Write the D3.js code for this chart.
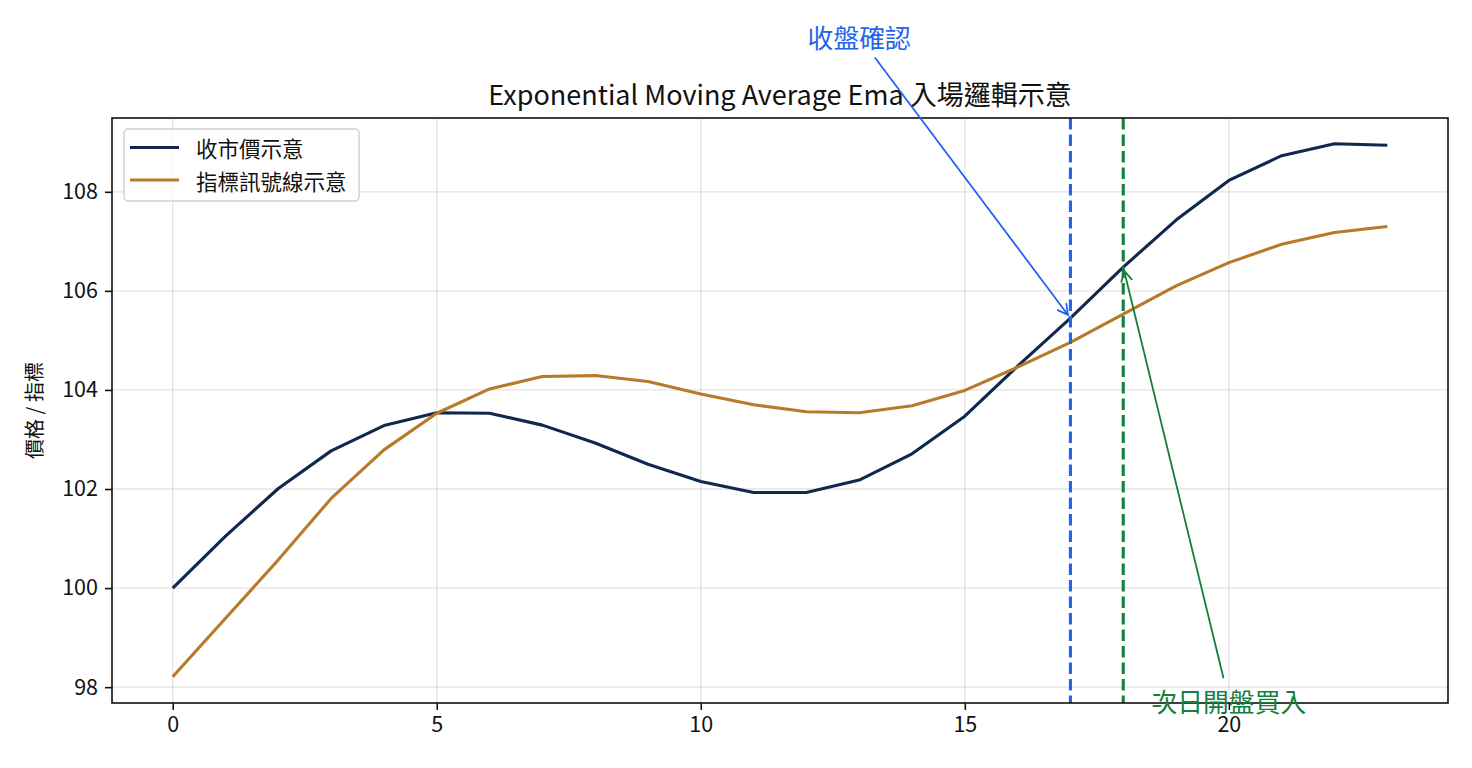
<!DOCTYPE html>
<html>
<head>
<meta charset="utf-8">
<script src="https://cdn.jsdelivr.net/npm/d3@7"></script>
<style>
    body { margin: 0; background: #fff; }
    svg text { font-family: "Noto Sans CJK TC", "Noto Sans", sans-serif; fill: #111; }
</style>
</head>
<body>
<div class="ema"></div>
<script>
////////////////////////////////// data

var days = [0, 1, 2, 3, 4, 5, 6, 7, 8, 9, 10, 11, 12, 13, 14, 15, 16, 17, 18, 19, 20, 21, 22, 23];
var closeValues = [100.00, 101.05, 102.01, 102.77, 103.28, 103.54, 103.53, 103.29, 102.93, 102.50, 102.15, 101.93,
                   101.93, 102.18, 102.71, 103.47, 104.48, 105.45, 106.48, 107.43, 108.23, 108.73, 108.97, 108.94];
var emaValues = [98.21, 99.39, 100.57, 101.81, 102.79, 103.53, 104.02, 104.27, 104.29, 104.17, 103.92, 103.70,
                 103.56, 103.54, 103.68, 103.99, 104.46, 104.96, 105.53, 106.10, 106.57, 106.94, 107.18, 107.30];
var xTicks = [0, 5, 10, 15, 20];
var yTicks = [98, 100, 102, 104, 106, 108];
var seriesNames = ["收市價示意", "指標訊號線示意"];
var titleText = "Exponential Moving Average Ema 入場邏輯示意";
var yLabelText = "價格 / 指標";
var markerDays = [17, 18];              // signal close, next-day entry
var noteTexts = ["收盤確認", "次日開盤買入"];

var emaChart = (function() {

    var exports = {};

////////////////////////////////// global variables

    var width = 1472, height = 768;
    var plot = { left: 112, right: 1448, top: 118, bottom: 703 };
    var closeColor = "#11284e", emaColor = "#b8792a";
    var blue = "#2563eb", green = "#15803d";

////////////////////////////////// helper functions

    //draws a matplotlib style "->" arrow from the text box edge to a data point
    function drawArrow(g, cx, cy, hw, hh, tx, ty, color){
        var dx = tx - cx, dy = ty - cy;
        var len = Math.sqrt(dx*dx + dy*dy);
        var ux = dx/len, uy = dy/len;
        var tA = Math.min(ux === 0 ? Infinity : hw/Math.abs(ux), uy === 0 ? Infinity : hh/Math.abs(uy)) + 6;
        var sx = cx + ux*tA, sy = cy + uy*tA;
        var ex = tx - ux*4, ey = ty - uy*4;
        var head = 12, ang = 28*Math.PI/180;
        function wing(a){
            var c = Math.cos(a), s = Math.sin(a);
            return [ex - head*(ux*c - uy*s), ey - head*(ux*s + uy*c)];
        }
        var w1 = wing(ang), w2 = wing(-ang);
        g.append("path")
            .attr("d", "M" + sx + "," + sy + "L" + ex + "," + ey +
                       "M" + w1[0] + "," + w1[1] + "L" + ex + "," + ey + "L" + w2[0] + "," + w2[1])
            .style("fill", "none")
            .style("stroke", color)
            .style("stroke-width", 1.8);
    }

/////////////////////////////////// chart

    function setup(div){

        var svg = d3.select(div).append("svg")
            .attr("width", width).attr("height", height);

        var x = d3.scaleLinear().domain([-1.15, 24.15]).range([plot.left, plot.right]);
        var y = d3.scaleLinear().domain([97.68, 109.49]).range([plot.bottom, plot.top]);

        //grid
        var grid = svg.append("g").attr("class", "grid");
        grid.selectAll(".gx").data(xTicks).enter().append("line")
            .attr("x1", function(d){return x(d);}).attr("x2", function(d){return x(d);})
            .attr("y1", plot.top).attr("y2", plot.bottom);
        grid.selectAll(".gy").data(yTicks).enter().append("line")
            .attr("x1", plot.left).attr("x2", plot.right)
            .attr("y1", function(d){return y(d);}).attr("y2", function(d){return y(d);});
        grid.selectAll("line").style("stroke", "#b0b0b0").style("stroke-opacity", 0.35).style("stroke-width", 1.3);

        //series lines
        var line = d3.line().x(function(d){return x(d[0]);}).y(function(d){return y(d[1]);});
        var series = [
            { values: d3.zip(days, closeValues), color: closeColor },
            { values: d3.zip(days, emaValues), color: emaColor }
        ];
        svg.selectAll(".series").data(series).enter().append("path")
            .attr("class", "series")
            .attr("d", function(d){return line(d.values);})
            .style("fill", "none")
            .style("stroke", function(d){return d.color;})
            .style("stroke-width", 3.1)
            .style("stroke-linejoin", "round");

        //dashed markers
        var markerColors = [blue, green];
        svg.selectAll(".marker").data(markerDays).enter().append("line")
            .attr("class", "marker")
            .attr("x1", function(d){return x(d);}).attr("x2", function(d){return x(d);})
            .attr("y1", plot.top).attr("y2", plot.bottom)
            .style("stroke", function(d,i){return markerColors[i];})
            .style("stroke-width", 3.1)
            .style("stroke-dasharray", "11.5,5");

        //spines
        svg.append("rect")
            .attr("x", plot.left).attr("y", plot.top)
            .attr("width", plot.right - plot.left).attr("height", plot.bottom - plot.top)
            .style("fill", "none").style("stroke", "#111").style("stroke-width", 1.6);

        //axes
        var xAxis = svg.append("g").attr("transform", "translate(0," + plot.bottom + ")")
            .call(d3.axisBottom(x).tickValues(xTicks).tickSize(7).tickPadding(7).tickFormat(d3.format("d")));
        var yAxis = svg.append("g").attr("transform", "translate(" + plot.left + ",0)")
            .call(d3.axisLeft(y).tickValues(yTicks).tickSize(7).tickPadding(7).tickFormat(d3.format("d")));
        [xAxis, yAxis].forEach(function(a){
            a.select(".domain").remove();
            a.selectAll(".tick line").style("stroke", "#111").style("stroke-width", 1.6);
            a.selectAll(".tick text").style("font-size", "21.5px").style("fill", "#111")
                .style("font-family", "'Noto Sans CJK TC', 'Noto Sans', sans-serif");
        });

        //title and label
        svg.append("text")
            .attr("x", (plot.left + plot.right)/2).attr("y", 105)
            .attr("text-anchor", "middle")
            .style("font-size", "27px")
            .text(titleText);
        svg.append("text")
            .attr("transform", "translate(33," + (plot.top + plot.bottom)/2 + ") rotate(-90)")
            .attr("text-anchor", "middle")
            .attr("dominant-baseline", "central")
            .style("font-size", "20px")
            .text(yLabelText);

        //annotations
        var notes = [
            { text: noteTexts[0], day: 13, value: 111.13, target: [markerDays[0], closeValues[markerDays[0]]], color: blue },
            { text: noteTexts[1], day: 20, value: 97.74, target: [markerDays[1], closeValues[markerDays[1]]], color: green }
        ];
        var ann = svg.append("g").attr("class", "annotations");
        notes.forEach(function(n){
            var cx = x(n.day), cy = y(n.value);
            var t = ann.append("text")
                .attr("x", cx).attr("y", cy)
                .attr("text-anchor", "middle")
                .attr("dominant-baseline", "central")
                .style("font-size", "25.8px")
                .style("fill", n.color)
                .text(n.text);
            var bb = t.node().getBBox();
            drawArrow(ann, cx, cy, bb.width/2, 16, x(n.target[0]), y(n.target[1]), n.color);
        });

        //legend
        var legend = svg.append("g").attr("class", "legend");
        legend.append("rect")
            .attr("x", 124).attr("y", 129).attr("width", 235).attr("height", 72)
            .attr("rx", 4)
            .style("fill", "#fff").style("fill-opacity", 0.8)
            .style("stroke", "#cfcfcf").style("stroke-width", 1.4);
        var items = legend.selectAll(".item").data(series).enter().append("g")
            .attr("class", "item")
            .attr("transform", function(d,i){return "translate(0," + (147.5 + i*32.5) + ")";});
        items.append("line")
            .attr("x1", 130).attr("x2", 179).attr("y1", 0).attr("y2", 0)
            .style("stroke", function(d){return d.color;})
            .style("stroke-width", 3.1);
        items.append("text")
            .attr("x", 196).attr("y", 0)
            .attr("dominant-baseline", "central")
            .style("font-size", "21.5px")
            .text(function(d,i){return seriesNames[i];});
    }

    exports.setup = setup;

    return exports;
}());

emaChart.setup(".ema");
</script>
</body>
</html>
